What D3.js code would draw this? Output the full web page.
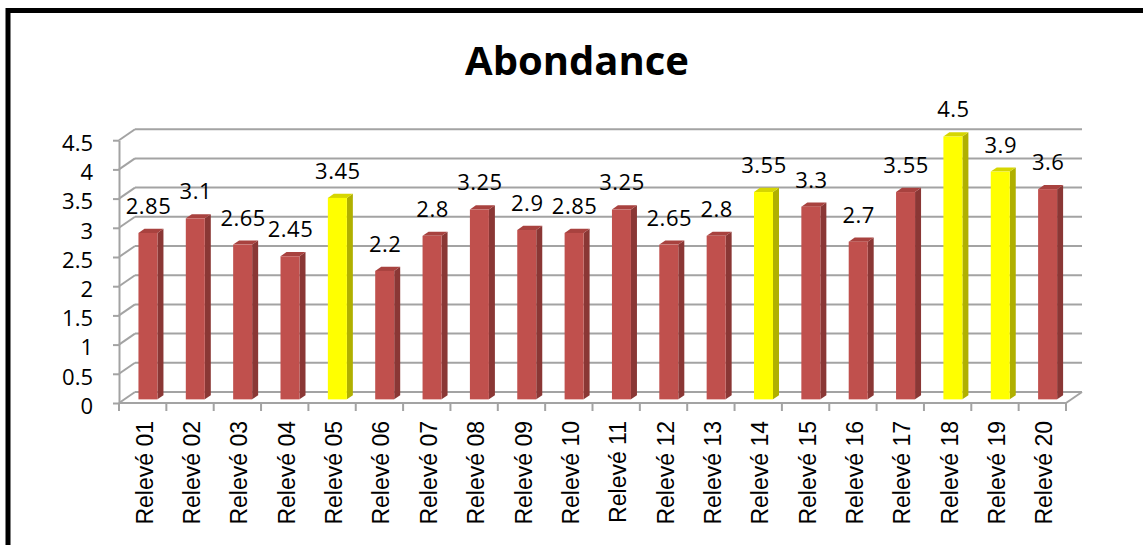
<!DOCTYPE html>
<html>
<head>
<meta charset="utf-8">
<script src="https://cdn.jsdelivr.net/npm/d3@7"></script>
<style>
  html, body { margin: 0; padding: 0; background: #fff; }
  svg { display: block; }
</style>
</head>
<body>
<svg id="chart" width="1143" height="545"></svg>
<script>
// Relevés and their abundance values
const categories = ["Relevé 01","Relevé 02","Relevé 03","Relevé 04","Relevé 05","Relevé 06","Relevé 07","Relevé 08","Relevé 09","Relevé 10",
                    "Relevé 11","Relevé 12","Relevé 13","Relevé 14","Relevé 15","Relevé 16","Relevé 17","Relevé 18","Relevé 19","Relevé 20"];
const values = [2.85,3.1,2.65,2.45,3.45,2.2,2.8,3.25,2.9,2.85,3.25,2.65,2.8,3.55,3.3,2.7,3.55,4.5,3.9,3.6];
// Relevés drawn in yellow
const highlighted = ["Relevé 05","Relevé 14","Relevé 18","Relevé 19"];
const yTicks = [0,0.5,1,1.5,2,2.5,3,3.5,4,4.5];
const title = "Abondance";

const svg = d3.select("#chart");

// outer frame
svg.append("rect")
  .attr("x", 8).attr("y", 10.5).attr("width", 1300).attr("height", 700)
  .attr("fill", "none").attr("stroke", "#000").attr("stroke-width", 5);

// plot geometry (front plane) and depth vector of the 3D box
const left = 119, right = 1066;
const depth = [16, -11];
const x = d3.scaleBand().domain(categories).range([left, right]);
const y = d3.scaleLinear().domain([0, 4.5]).range([403, 140.2]);

const gridColor = "#A3A3A3";
const grid = svg.append("g").attr("stroke", gridColor).attr("stroke-width", 2).attr("fill", "none");

// back wall gridlines and left wall diagonals
yTicks.forEach(v => {
  const yy = y(v);
  grid.append("line")
    .attr("x1", left + depth[0]).attr("x2", right + depth[0])
    .attr("y1", yy + depth[1]).attr("y2", yy + depth[1]);
  grid.append("line")
    .attr("x1", left).attr("y1", yy)
    .attr("x2", left + depth[0]).attr("y2", yy + depth[1]);
});
// floor front edge and right diagonal
grid.append("line").attr("x1", left).attr("x2", right).attr("y1", y(0)).attr("y2", y(0));
grid.append("line").attr("x1", right).attr("y1", y(0)).attr("x2", right + depth[0]).attr("y2", y(0) + depth[1]);

// category boundary ticks
const bounds = categories.map(c => x(c)).concat([right]);
grid.selectAll("line.xt").data(bounds).enter().append("line")
  .attr("class", "xt")
  .attr("x1", d => d).attr("x2", d => d)
  .attr("y1", y(0)).attr("y2", y(0) + 8);

// y axis
const yAxis = svg.append("g")
  .attr("transform", `translate(${left},0)`)
  .call(d3.axisLeft(y).tickValues(yTicks).tickFormat(d3.format("")).tickSize(6).tickSizeOuter(0).tickPadding(20));
yAxis.select(".domain").attr("stroke", gridColor).attr("stroke-width", 2);
yAxis.selectAll(".tick line").attr("stroke", gridColor).attr("stroke-width", 2);
yAxis.selectAll(".tick text")
  .attr("font-family", "'Open Sans', sans-serif").attr("font-size", 22)
  .attr("fill", "#000").attr("dy", "0.47em");

// bars: front face, side face and top face
const barW = 19;
const tFront = 0.33, barDepth = [6, -4.2];
const offX = depth[0] * tFront, offY = depth[1] * tFront;
const colors = {
  red:    { face: "#C0504D", side: "#8A3735", top: "#A8423F" },
  yellow: { face: "#FFFF00", side: "#B0B000", top: "#D6D600" }
};

const bars = svg.append("g");
categories.forEach((c, i) => {
  const v = values[i];
  const col = highlighted.includes(c) ? colors.yellow : colors.red;
  const cx = x(c) + x.bandwidth() / 2 + offX;
  const x0 = cx - barW / 2, x1 = cx + barW / 2;
  const yb = y(0) + offY, yt = y(v) + offY;
  const [dx, dy] = barDepth;
  bars.append("path")
    .attr("d", `M${x1},${yb}L${x1 + dx},${yb + dy}L${x1 + dx},${yt + dy}L${x1},${yt}Z`)
    .attr("fill", col.side);
  bars.append("path")
    .attr("d", `M${x0},${yt}L${x1},${yt}L${x1 + dx},${yt + dy}L${x0 + dx},${yt + dy}Z`)
    .attr("fill", col.top);
  bars.append("rect")
    .attr("x", x0).attr("y", yt).attr("width", barW).attr("height", yb - yt)
    .attr("fill", col.face);
  // value label
  bars.append("text")
    .attr("x", cx + 0.5).attr("y", yt - 27).attr("dy", "0.36em")
    .attr("text-anchor", "middle")
    .attr("font-family", "'Open Sans', sans-serif").attr("font-size", 22)
    .attr("letter-spacing", 0.5)
    .attr("fill", "#000")
    .text(String(v));
});

// category labels, rotated
const xAxis = svg.append("g")
  .attr("transform", `translate(0,${y(0)})`)
  .call(d3.axisBottom(x).tickSize(0).tickPadding(0));
xAxis.select(".domain").remove();
xAxis.selectAll(".tick text")
  .attr("font-family", "'Liberation Sans', Arial, sans-serif").attr("font-size", 23)
  .attr("fill", "#000")
  .attr("text-anchor", "end")
  .attr("transform", "translate(2,18) rotate(-90)")
  .attr("x", 0).attr("y", 0).attr("dy", "0.35em");

// title
svg.append("text")
  .attr("x", 577).attr("y", 75)
  .attr("text-anchor", "middle")
  .attr("font-family", "'Open Sans', sans-serif").attr("font-weight", "bold").attr("font-size", 40)
  .attr("fill", "#000")
  .text(title);
</script>
</body>
</html>
